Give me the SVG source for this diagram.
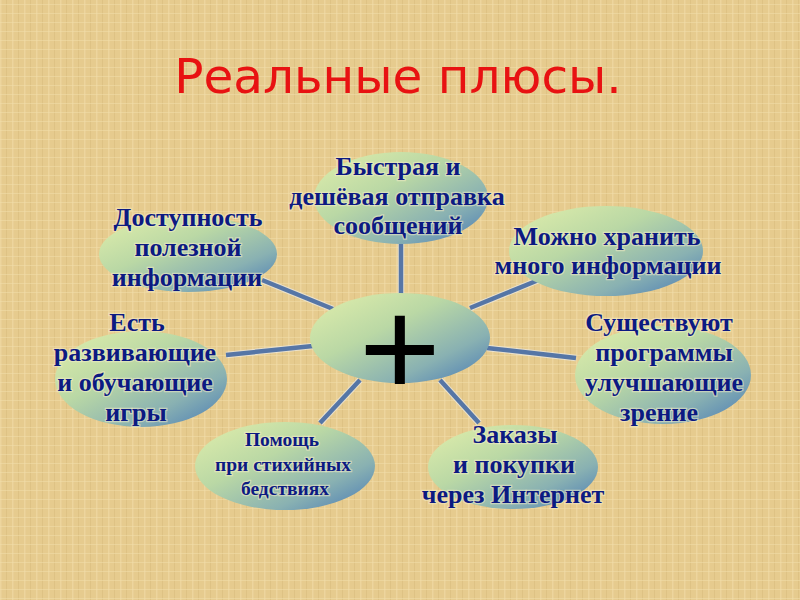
<svg xmlns="http://www.w3.org/2000/svg" width="800" height="600" viewBox="0 0 800 600">
<defs>
  <pattern id="paper" width="12" height="9" patternUnits="userSpaceOnUse">
    <rect width="12" height="9" fill="#e6cb8e"/>
    <rect x="0" y="0" width="1.5" height="9" fill="#f0d9a4" opacity="0.7"/>
    <rect x="6" y="0" width="1" height="9" fill="#d6b97a" opacity="0.5"/>
    <rect x="0" y="4" width="12" height="1" fill="#f2dfac" opacity="0.5"/>
  </pattern>
  <linearGradient id="blob" x1="0" y1="0" x2="1" y2="1">
    <stop offset="0" stop-color="#e2efab"/>
    <stop offset="0.4" stop-color="#bad8a5"/>
    <stop offset="0.72" stop-color="#89b1b2"/>
    <stop offset="1" stop-color="#4678b6"/>
  </linearGradient>
  <style>
    .node ellipse { fill: url(#blob); }
    .lbl { font-family: "Liberation Serif", "Times New Roman", serif; font-weight: bold; fill: #0c1a82; text-anchor: middle; font-size: 26px; stroke: #f6edc8; stroke-width: 2.5px; stroke-opacity: 0.55; paint-order: stroke; }
    .sm { font-size: 19.5px; }
    .conn line { stroke: #5676a6; stroke-width: 4.5; stroke-linecap: butt; }
    .connhalo line { stroke: #eef0f4; stroke-width: 6.5; opacity: 0.6; }
  </style>
</defs>
<rect width="800" height="600" fill="url(#paper)"/>
<text x="398" y="93" font-family="DejaVu Sans, Verdana, sans-serif" font-size="48.5" fill="#e81212" text-anchor="middle">Реальные плюсы.</text>

<g id="connectors">
  <g class="connhalo">
    <line x1="401" y1="244" x2="401" y2="296"/>
    <line x1="262" y1="280" x2="333" y2="309"/>
    <line x1="470" y1="308" x2="541" y2="279"/>
    <line x1="226" y1="355" x2="313" y2="346"/>
    <line x1="487" y1="348" x2="576" y2="358"/>
    <line x1="360" y1="380" x2="320" y2="423"/>
    <line x1="440" y1="380" x2="479" y2="423"/>
  </g>
  <g class="conn">
    <line x1="401" y1="244" x2="401" y2="296"/>
    <line x1="262" y1="280" x2="333" y2="309"/>
    <line x1="470" y1="308" x2="541" y2="279"/>
    <line x1="226" y1="355" x2="313" y2="346"/>
    <line x1="487" y1="348" x2="576" y2="358"/>
    <line x1="360" y1="380" x2="320" y2="423"/>
    <line x1="440" y1="380" x2="479" y2="423"/>
  </g>
</g>

<g id="center" class="node">
  <ellipse cx="400" cy="338" rx="90" ry="45"/>
  <text x="400" y="396" font-family="Liberation Sans, Arial, sans-serif" font-size="140" fill="#000" text-anchor="middle">+</text>
</g>

<g id="n-top" class="node">
  <ellipse cx="401" cy="198" rx="87" ry="46"/>
  <text class="lbl" x="398" y="175">Быстрая и</text>
  <text class="lbl" x="397" y="205">дешёвая отправка</text>
  <text class="lbl" x="398" y="234">сообщений</text>
</g>

<g id="n-topleft" class="node">
  <ellipse cx="188" cy="254" rx="89" ry="38"/>
  <text class="lbl" x="188" y="226">Доступность</text>
  <text class="lbl" x="188" y="256">полезной</text>
  <text class="lbl" x="187" y="286">информации</text>
</g>

<g id="n-topright" class="node">
  <ellipse cx="606" cy="251" rx="97" ry="45"/>
  <text class="lbl" x="607" y="245">Можно хранить</text>
  <text class="lbl" x="608" y="274">много информации</text>
</g>

<g id="n-left" class="node">
  <ellipse cx="141" cy="379" rx="86" ry="48"/>
  <text class="lbl" x="137" y="331">Есть</text>
  <text class="lbl" x="135" y="361">развивающие</text>
  <text class="lbl" x="135" y="391">и обучающие</text>
  <text class="lbl" x="136" y="421">игры</text>
</g>

<g id="n-right" class="node">
  <ellipse cx="663" cy="375" rx="88" ry="49"/>
  <text class="lbl" x="659" y="331">Существуют</text>
  <text class="lbl" x="664" y="361">программы</text>
  <text class="lbl" x="664" y="391">улучшающие</text>
  <text class="lbl" x="659" y="421">зрение</text>
</g>

<g id="n-bottomleft" class="node">
  <ellipse cx="285" cy="466" rx="90" ry="44"/>
  <text class="lbl sm" x="282" y="446">Помощь</text>
  <text class="lbl sm" x="283" y="471">при стихийных</text>
  <text class="lbl sm" x="285" y="495">бедствиях</text>
</g>

<g id="n-bottomright" class="node">
  <ellipse cx="513" cy="467" rx="85" ry="42"/>
  <text class="lbl" x="515" y="443">Заказы</text>
  <text class="lbl" x="514" y="473">и покупки</text>
  <text class="lbl" x="513" y="503">через Интернет</text>
</g>
</svg>
